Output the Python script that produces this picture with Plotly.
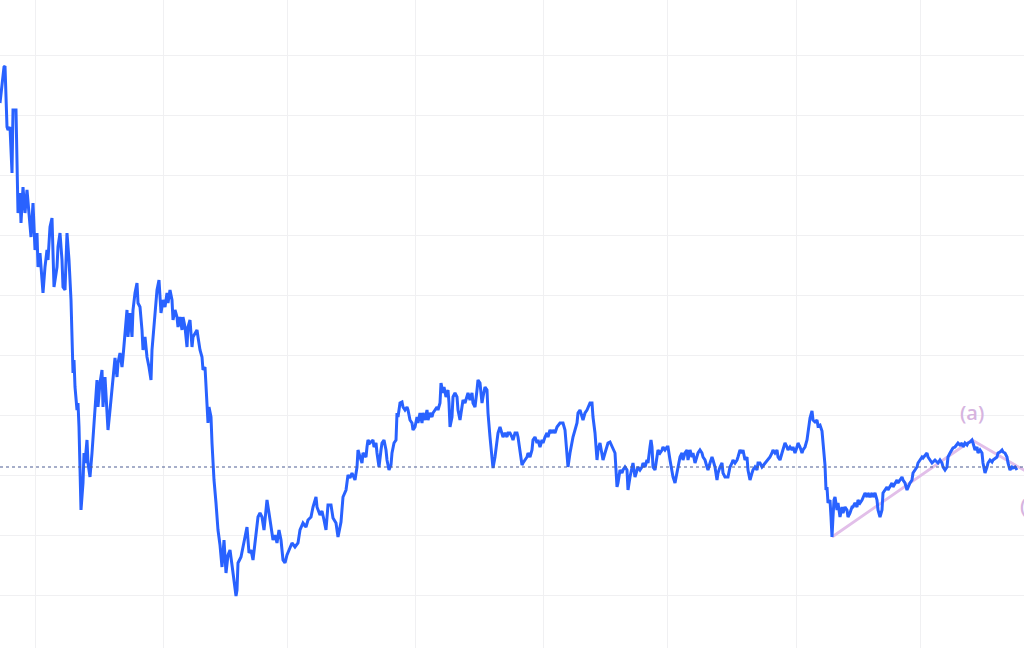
import plotly.graph_objects as go

# bar index (time axis) and price readings
bar_x = [0,4,5,6,7,8,10,12,13,16,17,18,20,21,23,25,27,29,31,33,35,37,38,40,42,43,45,47,48,50,52,53,54,57,58,60,62,63,65,67,68,69,71,72,73,74,75,77,78,79,80,81,83,84,85,87,88,90,92,95,97,98,100,102,103,105,108,110,112,113,115,117,118,120,122,123,125,127,128,130,132,133,135,137,138,140,142,143,145,147,149,151,152,154,156,157,159,161,163,165,167,168,170,172,173,175,177,178,180,182,183,185,187,188,190,192,193,195,197,198,200,202,203,205,207,208,209,211,212,213,214,216,217,218,220,222,224,226,228,230,232,234,236,237,238,241,243,245,247,249,251,253,255,257,258,260,262,264,266,267,269,271,273,275,277,279,281,283,285,287,290,292,295,298,300,303,306,308,311,313,316,317,320,322,324,326,328,331,333,336,338,341,343,346,348,350,352,355,357,358,360,362,363,366,367,368,370,373,374,376,377,379,381,382,384,386,387,389,391,392,394,396,397,398,400,402,403,405,407,408,410,412,413,415,417,418,420,422,423,425,427,428,430,432,433,435,437,438,440,441,443,444,446,448,449,450,452,453,455,457,458,460,462,463,465,467,468,470,472,473,475,477,478,480,482,483,485,487,488,490,492,493,495,497,498,500,502,503,505,507,508,510,512,513,515,517,518,520,522,523,525,527,528,530,532,533,535,537,538,540,542,543,545,547,548,550,552,553,555,557,560,563,565,567,568,570,572,573,577,578,580,582,583,585,587,590,592,593,595,597,598,600,602,603,605,607,608,610,612,613,615,617,618,620,622,623,625,627,628,630,632,633,635,637,638,640,642,643,645,647,648,650,651,652,653,655,657,658,660,662,663,665,667,668,670,672,673,675,677,678,680,682,683,685,687,688,690,692,693,695,697,698,700,702,703,705,707,708,710,712,713,715,717,718,720,722,723,725,728,730,732,733,735,737,738,740,742,743,745,747,748,750,752,753,755,757,758,760,762,765,768,770,772,773,775,777,778,780,782,783,785,787,788,790,792,793,795,797,798,800,802,803,805,807,808,810,812,813,815,817,818,820,822,823,825,826,827,828,830,831,832,833,834,835,837,838,840,842,843,845,847,848,850,852,853,855,857,858,860,862,863,865,867,868,870,872,873,875,877,878,880,882,883,885,887,888,890,892,893,895,897,898,900,902,903,905,907,908,910,912,913,915,917,918,920,922,923,925,927,928,930,932,933,935,937,938,940,942,943,945,947,948,950,952,953,955,957,958,960,962,963,965,967,968,970,972,973,975,977,978,980,982,983,985,987,988,990,992,993,995,997,998,1000,1002,1003,1005,1007,1008,1010,1012,1013,1015,1017]

price = [552,588,589,555,528,525,528,482,545,545,478,442,462,432,468,442,465,445,418,452,405,422,388,402,378,362,388,405,395,428,437,408,368,388,408,422,395,368,365,422,408,395,355,312,282,295,268,245,252,228,185,145,172,202,192,215,192,178,202,248,275,248,272,285,248,278,225,245,265,275,297,278,292,302,288,298,318,345,318,342,318,345,362,372,352,348,325,305,318,298,288,275,305,328,345,365,375,342,355,348,362,352,365,355,335,345,338,328,338,325,338,328,308,328,335,308,318,322,325,318,305,298,285,288,258,232,248,238,212,185,175,152,138,125,110,88,115,82,100,105,90,75,59,65,92,98,108,115,128,102,105,95,112,128,138,142,138,125,142,155,142,130,115,120,112,125,115,95,92,100,108,112,108,112,125,132,128,135,138,148,158,148,140,144,135,125,150,150,137,132,118,133,158,165,180,177,182,175,188,205,198,192,202,198,208,215,212,215,208,212,202,188,205,212,215,205,195,185,190,202,212,215,242,238,252,253,248,245,248,245,235,232,225,228,238,232,242,232,242,235,245,235,242,238,242,245,248,245,252,272,262,268,258,265,252,228,238,258,262,258,245,235,248,255,252,258,262,255,262,252,248,265,275,272,252,258,268,265,242,218,198,187,198,212,222,228,222,218,222,218,222,222,218,215,222,222,218,205,190,192,195,198,202,198,205,215,218,212,215,208,215,212,218,222,218,225,222,225,222,228,232,232,225,205,188,202,212,218,232,242,245,238,235,242,245,252,252,238,222,195,205,212,198,195,202,208,212,213,208,205,202,168,172,185,182,185,188,185,165,178,188,192,178,185,188,185,188,192,188,195,192,208,215,208,188,185,202,205,202,205,208,205,208,208,195,185,178,172,182,188,198,202,195,202,205,195,205,198,202,192,198,202,205,202,198,195,188,185,192,198,195,188,175,182,188,192,182,178,178,188,192,195,192,195,198,205,202,205,195,198,185,175,182,185,188,185,192,192,188,192,195,198,202,205,202,205,198,195,202,205,212,208,205,208,205,208,202,208,212,208,202,205,208,215,222,237,244,235,233,235,229,230,224,213,190,165,168,152,155,138,118,138,155,158,145,152,138,148,142,148,145,138,142,148,148,152,148,155,152,155,158,162,158,162,158,162,158,162,155,145,138,145,162,165,168,165,168,172,168,172,175,172,175,178,175,172,165,168,172,175,182,185,188,192,195,198,197,200,202,198,195,192,193,195,193,192,195,192,188,185,188,198,202,205,207,208,210,212,210,212,208,212,210,212,213,215,212,205,208,202,205,202,192,182,188,192,195,193,195,197,198,202,203,205,203,202,198,192,185,188,187,188,185]

# Elliott wave annotation points
wave_x = [832, 972, 1060]
wave_y = [118, 215, 164]
wave_labels = ["(a)", "(b)"]

last_price = 188

grid_x = [35, 163, 287, 415, 543, 667, 796, 920]

fig = go.Figure()

fig.add_trace(go.Scatter(
    x=wave_x, y=wave_y, mode="lines",
    line=dict(color="#e2bfe9", width=2.8),
    hoverinfo="skip", showlegend=False,
))

fig.add_trace(go.Scatter(
    x=bar_x, y=price, mode="lines",
    line=dict(color="#2962ff", width=3),
    showlegend=False,
))

fig.add_shape(type="line", xref="paper", x0=0, x1=1, yref="y",
              y0=last_price, y1=last_price,
              line=dict(color="#4f5f94", width=1.2, dash="dot"))

fig.add_annotation(x=972, y=243, xref="x", yref="y", text=wave_labels[0],
                   showarrow=False,
                   font=dict(family="Open Sans, sans-serif", size=20, color="#d6b4df", weight=600))
fig.add_annotation(x=1032 / 1024, y=150, xref="paper", yref="y", text=wave_labels[1],
                   showarrow=False, xanchor="center",
                   font=dict(family="Open Sans, sans-serif", size=20, color="#d6b4df", weight=600))

fig.update_layout(
    width=1024, height=648,
    margin=dict(l=0, r=0, t=0, b=0),
    paper_bgcolor="white", plot_bgcolor="white",
    xaxis=dict(range=[0, 1024], tickmode="array", tickvals=grid_x,
               showticklabels=False, showgrid=True, gridcolor="#f0f0f2",
               gridwidth=1, zeroline=False, showline=False, fixedrange=True),
    yaxis=dict(range=[7, 655], tick0=0, dtick=60,
               showticklabels=False, showgrid=True, gridcolor="#f0f0f2",
               gridwidth=1, zeroline=False, showline=False, fixedrange=True),
    hovermode=False,
)

body = fig.to_html(full_html=False, include_plotlyjs=True,
                   config={"displayModeBar": False})
html = ("<!DOCTYPE html><html><head><meta charset='utf-8'>"
        "<style>html,body{margin:0;padding:0;overflow:hidden;background:#fff;}</style>"
        "</head><body>" + body + "</body></html>")
with open("out.html", "w", encoding="utf-8") as f:
    f.write(html)
